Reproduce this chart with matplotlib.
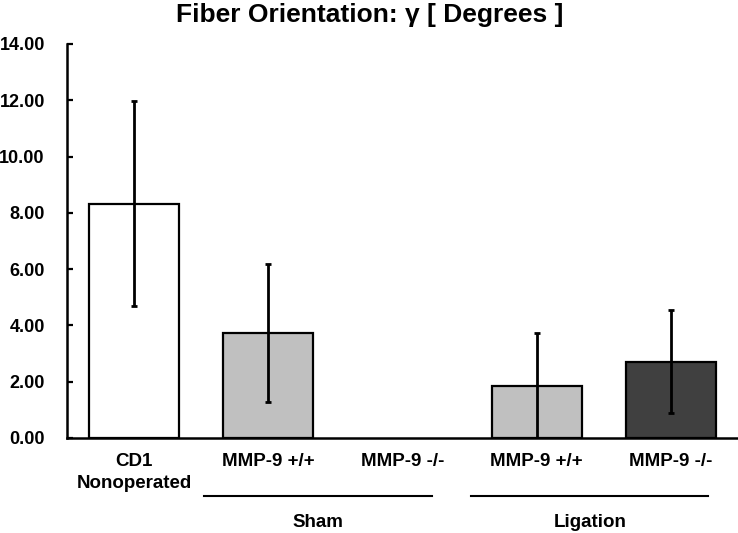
import matplotlib
matplotlib.use("Agg")
import matplotlib.pyplot as plt
import matplotlib.transforms as mtransforms

plt.rcParams['font.family'] = ['Liberation Sans', 'DejaVu Sans']
plt.rcParams['font.weight'] = 'bold'

categories = ["CD1\nNonoperated", "MMP-9 +/+", "MMP-9 -/-", "MMP-9 +/+", "MMP-9 -/-"]
values = [8.33, 3.73, 0.0, 1.86, 2.71]
errors = [3.63, 2.46, 0.0, 1.87, 1.83]
colors = ["#FFFFFF", "#C0C0C0", "#FFFFFF", "#C0C0C0", "#404040"]
groups = ["Sham", "Ligation"]
group_spans = [(0.52, 2.22), (2.51, 4.28)]
yticks = [0, 2, 4, 6, 8, 10, 12, 14]

W, H = 738, 533
fig = plt.figure(figsize=(W / 100, H / 100), dpi=100)
ax = fig.add_axes([67 / W, (H - 438) / H, 671 / W, 394 / H])

x = list(range(len(categories)))
draw_idx = [i for i in x if values[i] > 0]
ax.bar([x[i] for i in draw_idx], [values[i] for i in draw_idx], width=0.67,
       color=[colors[i] for i in draw_idx], edgecolor="black", linewidth=1.6, zorder=2)
ax.errorbar([x[i] for i in draw_idx], [values[i] for i in draw_idx],
            yerr=[errors[i] for i in draw_idx], fmt="none", ecolor="black",
            elinewidth=2, capsize=2.5, capthick=2, zorder=3)

fs = 13.5
ax.set_xlim(-0.5, len(categories) - 0.5)
ax.set_ylim(0, 14)
ax.set_yticks(yticks)
ax.set_yticklabels([f"{v:.2f}" for v in yticks], fontsize=13, fontweight="bold")
ax.set_xticks(x)
ax.set_xticklabels(categories, fontsize=fs, fontweight="bold", linespacing=1.4)
ax.tick_params(axis="x", length=0, pad=11)
ax.tick_params(axis="y", direction="in", length=4.5, width=1.6, pad=16)
for s in ["top", "right"]:
    ax.spines[s].set_visible(False)
for s in ["left", "bottom"]:
    ax.spines[s].set_linewidth(1.8)

trans = mtransforms.blended_transform_factory(ax.transData, ax.transAxes)
for name, (a, b) in zip(groups, group_spans):
    ax.plot([a, b], [-0.147, -0.147], color="black", linewidth=1.5,
            transform=trans, clip_on=False)
    ax.text((a + b) / 2, -0.214, name, transform=trans, ha="center", va="center",
            fontsize=fs, fontweight="bold")

fig.text(370 / W, 1 - 15 / H, "Fiber Orientation: γ [ Degrees ]", ha="center",
         va="center", fontsize=19, fontweight="bold")

fig.savefig("out.png", dpi=100)
